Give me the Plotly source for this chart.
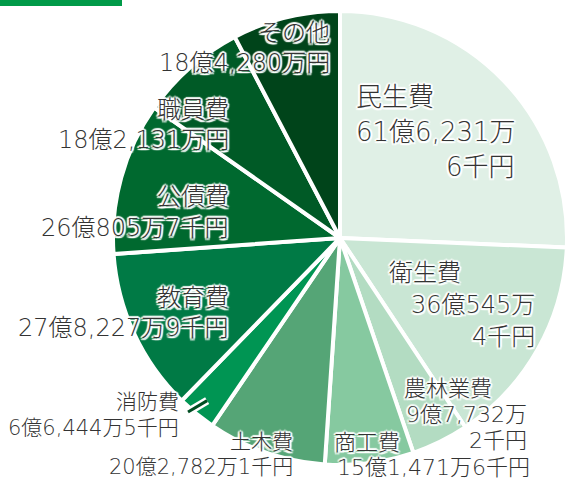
import math
import plotly.graph_objects as go

# ---- data (values in 千円) ----
categories = ["民生費", "衛生費", "農林業費", "商工費", "土木費",
              "消防費", "教育費", "公債費", "職員費", "その他"]
values_sen = [6162316, 3605454, 977322, 1514716, 2027821,
              664445, 2782279, 2608057, 1821310, 1842800]
slice_colors = ["#e0f0e6", "#c9e6d4", "#b3dcc2", "#86c9a0", "#55a576",
                "#009553", "#007a45", "#00692f", "#005a26", "#00441a"]
# categories whose amount wraps after 万
wrap_after_man = ["民生費", "衛生費", "農林業費"]


def fmt_amount(v):
    oku = v // 100000
    man = (v % 100000) // 10
    sen = v % 10
    s = f"{oku}億"
    if man:
        s += f"{man:,}万"
    s += f"{sen}千円" if sen else "円"
    return s


# ---- layout constants ----
W, H = 568, 482
CX, CY, R = 340, 238, 227
TEXT = "#333333"
FONT = "DejaVu Sans, Noto Sans CJK JP, sans-serif"
HALO = ("2px 0 1px #fff, -2px 0 1px #fff, 0 2px 1px #fff, 0 -2px 1px #fff, "
        "1.5px 1.5px 1px #fff, -1.5px -1.5px 1px #fff, 1.5px -1.5px 1px #fff, -1.5px 1.5px 1px #fff")

# label placement: name (x, y, anchor), amount lines [(x, y, anchor)], font size
label_pos = {
    "民生費": ((355, 97, "left"), [(355, 132, "left"), (516, 167, "right")], 26),
    "衛生費": ((388, 273, "left"), [(536, 305, "right"), (536, 337, "right")], 24),
    "農林業費": ((403, 388, "left"), [(528, 414, "right"), (528, 440, "right")], 22),
    "商工費": ((333, 442, "left"), [(336, 467, "left")], 22),
    "土木費": ((294, 442, "right"), [(294, 467, "right")], 21),
    "消防費": ((180, 402, "right"), [(180, 428, "right")], 21),
    "教育費": ((230, 298, "right"), [(230, 328, "right")], 24),
    "公債費": ((230, 197, "right"), [(230, 228, "right")], 24),
    "職員費": ((230, 110, "right"), [(230, 140, "right")], 24),
    "その他": ((331, 33, "right"), [(331, 63, "right")], 24),
}
# leader for 消防費: starts next to its label, ends inside the slice
LEADER_START = (188, 412)
LEADER_R = R - 17


def px(x):
    return x / W


def py(y):
    return 1 - y / H


fig = go.Figure(go.Pie(
    labels=categories,
    values=values_sen,
    sort=False,
    direction="clockwise",
    rotation=0,
    textinfo="none",
    hoverinfo="label+value",
    marker=dict(colors=slice_colors, line=dict(color="#ffffff", width=4)),
    domain=dict(x=[px(CX - R), px(CX + R)], y=[py(CY + R), py(CY - R)]),
    showlegend=False,
))

annotations = []
for name, v in zip(categories, values_sen):
    (nx, ny, na), amount_pos, fs = label_pos[name]
    amount = fmt_amount(v)
    if name in wrap_after_man:
        i = amount.index("万") + 1
        lines = [amount[:i], amount[i:]]
    else:
        lines = [amount]
    items = [(name, nx, ny, na)] + [(t, x, y, a) for t, (x, y, a) in zip(lines, amount_pos)]
    for t, x, y, a in items:
        annotations.append(dict(
            text=t, x=px(x), y=py(y), xref="paper", yref="paper",
            xanchor=a, yanchor="middle", showarrow=False, borderpad=0,
            font=dict(family=FONT, size=fs, color=TEXT, shadow=HALO, weight=300),
        ))

# leader line for 消防費: end point at the slice's mid-angle
total = sum(values_sen)
k = categories.index("消防費")
before = sum(values_sen[:k])
mid = (before + values_sen[k] / 2) / total * 2 * math.pi
x0, y0 = LEADER_START
x1, y1 = CX + LEADER_R * math.sin(mid), CY - LEADER_R * math.cos(mid)
shapes = [
    dict(type="rect", xref="paper", yref="paper", x0=0, x1=px(122), y0=py(6), y1=1,
         fillcolor="#009a48", line=dict(width=0), layer="above"),
    dict(type="line", xref="paper", yref="paper", x0=px(x0), y0=py(y0), x1=px(x1), y1=py(y1),
         line=dict(color="#ffffff", width=8), layer="above"),
    dict(type="line", xref="paper", yref="paper", x0=px(x0), y0=py(y0), x1=px(x1), y1=py(y1),
         line=dict(color="#004d22", width=3), layer="above"),
]

fig.update_layout(
    width=W, height=H,
    margin=dict(l=0, r=0, t=0, b=0),
    paper_bgcolor="#ffffff", plot_bgcolor="#ffffff",
    annotations=annotations,
    shapes=shapes,
)

fig.write_html("out.html", config={"displayModeBar": False},
               post_script="document.body.style.margin='0';")
